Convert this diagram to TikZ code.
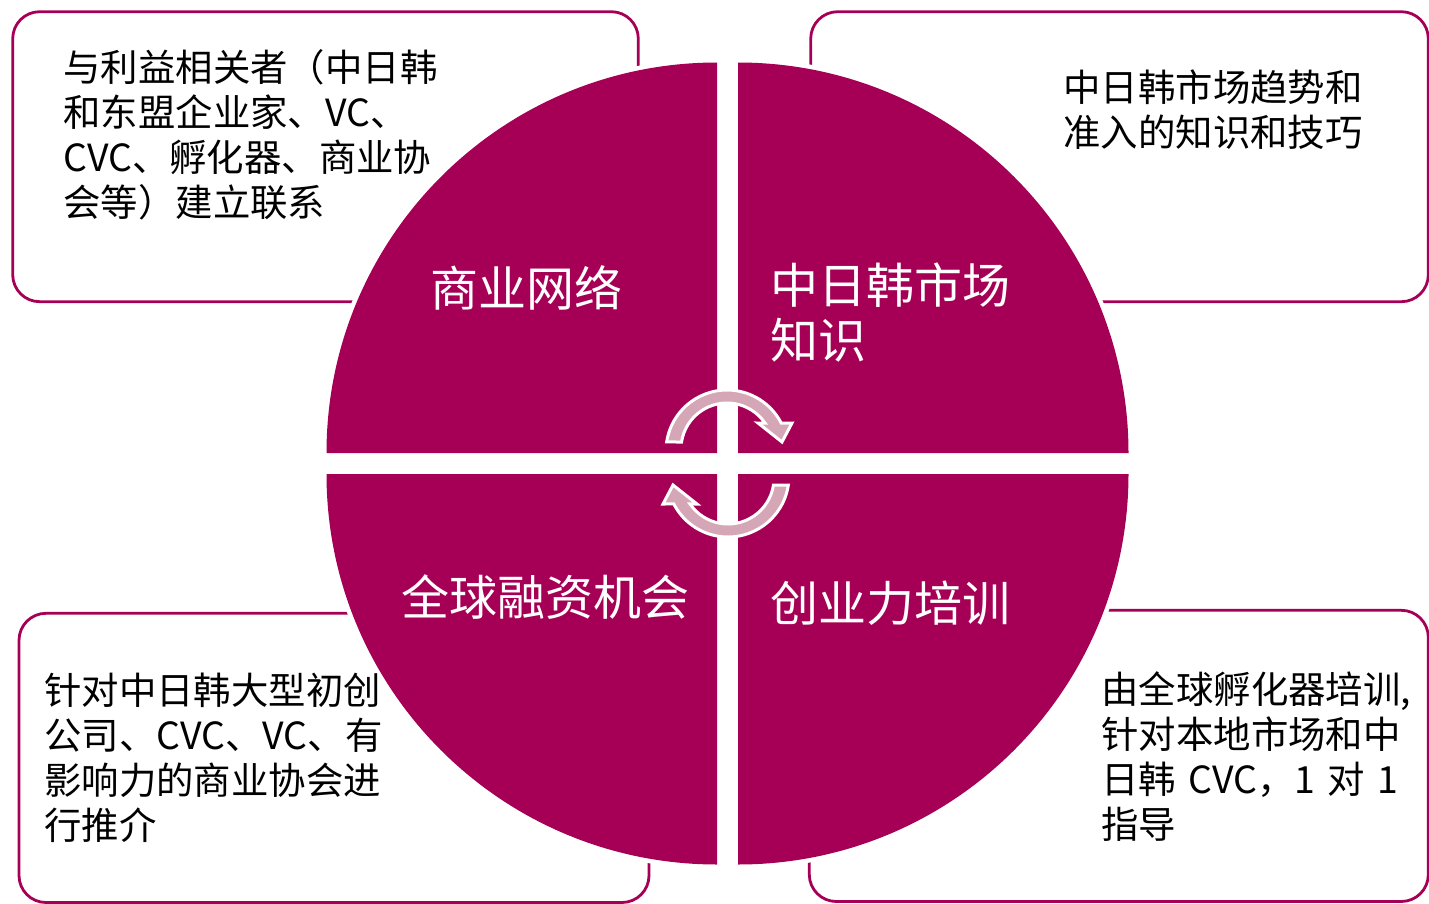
\documentclass[tikz,border=0pt]{standalone}
\usepackage{fontspec}
\newfontfamily\cjk{Noto Sans CJK SC}
\usetikzlibrary{calc}
\definecolor{mag}{RGB}{166,0,86}
\definecolor{arrowpink}{RGB}{212,166,182}
\begin{document}
\begin{tikzpicture}[x=0.5pt,y=-0.5pt,
  box/.style={draw=mag, line width=1.4pt, fill=white, rounded corners=13.5pt, rectangle, inner sep=0pt},
  boxtext/.style={anchor=base west, inner sep=0pt, text width=150pt, align=left, font=\cjk\fontsize{18.7}{22.5}\selectfont},
  quadtext/.style={anchor=base west, inner sep=0pt, text width=150pt, align=left, text=white, font=\cjk\fontsize{24}{27.5}\selectfont},
  quad/.style={fill=mag},
  halo/.style={fill=white},
  cyc/.style={fill=arrowpink, draw=white, line width=1.5pt, line join=miter}]
\useasboundingbox (0,0) rectangle (1429,904);
\fill[white] (0,0) rectangle (1429,904);
% boxes
\node[box, minimum width=312.8pt, minimum height=145pt] (tlbox) at (325.5,156.7) {};
\node[box, minimum width=308.8pt, minimum height=145pt] (trbox) at (1119.5,156.7) {};
\node[box, minimum width=315pt, minimum height=144.6pt] (blbox) at (334,757.9) {};
\node[box, minimum width=309.5pt, minimum height=145.6pt] (brbox) at (1118.8,755.9) {};
% halos
\fill[halo] (717,453) -- ++(-395,0) arc[start angle=180,end angle=270,radius=395] -- cycle;
\fill[halo] (738,453) -- ++(0,-395) arc[start angle=270,end angle=360,radius=395] -- cycle;
\fill[halo] (738,474) -- ++(395,0) arc[start angle=0,end angle=90,radius=395] -- cycle;
\fill[halo] (717,474) -- ++(0,395) arc[start angle=90,end angle=180,radius=395] -- cycle;
% quadrants
\fill[quad] (717,453) -- ++(-390.5,0) arc[start angle=180,end angle=270,radius=390.5] -- cycle;
\fill[quad] (738,453) -- ++(0,-390.5) arc[start angle=270,end angle=360,radius=390.5] -- cycle;
\fill[quad] (738,474) -- ++(390.5,0) arc[start angle=0,end angle=90,radius=390.5] -- cycle;
\fill[quad] (717,474) -- ++(0,390.5) arc[start angle=90,end angle=180,radius=390.5] -- cycle;
% cycle arrows
\path[cyc] ($(727,451)+(188.5:61)$) arc[start angle=188.5, end angle=332.7, radius=61]
  -- (792,423) -- (782,442) -- (758,423)
  -- ($(727,449)+(325.6:46)$) arc[start angle=325.6, end angle=188.75, radius=46] -- cycle;
\begin{scope}[rotate around={180:(727.5,463.5)}]
\path[cyc] ($(727,451)+(188.5:61)$) arc[start angle=188.5, end angle=332.7, radius=61]
  -- (792,423) -- (782,442) -- (758,423)
  -- ($(727,449)+(325.6:46)$) arc[start angle=325.6, end angle=188.75, radius=46] -- cycle;
\end{scope}
% quadrant labels
\node[quadtext] (q1) at (430,306) {商业网络};
\node[quadtext] (q2) at (770,303) {中日韩市场\\知识};
\node[quadtext] (q3) at (401,615) {全球融资机会};
\node[quadtext] (q4) at (770,621) {创业力培训};
% box texts
\node[boxtext] (t1) at (63,82) {与利益相关者（中日韩\\和东盟企业家、VC、\\CVC、孵化器、商业协\\会等）建立联系};
\node[boxtext] (t2) at (1063,102) {中日韩市场趋势和\\准入的知识和技巧};
\node[boxtext] (t3) at (44,704.5) {针对中日韩大型初创\\公司、CVC、VC、有\\影响力的商业协会进\\行推介};
\node[boxtext] (t4) at (1101,703) {由全球孵化器培训,\\针对本地市场和中\\日韩 CVC，1 对 1\\指导};
\end{tikzpicture}
\end{document}
